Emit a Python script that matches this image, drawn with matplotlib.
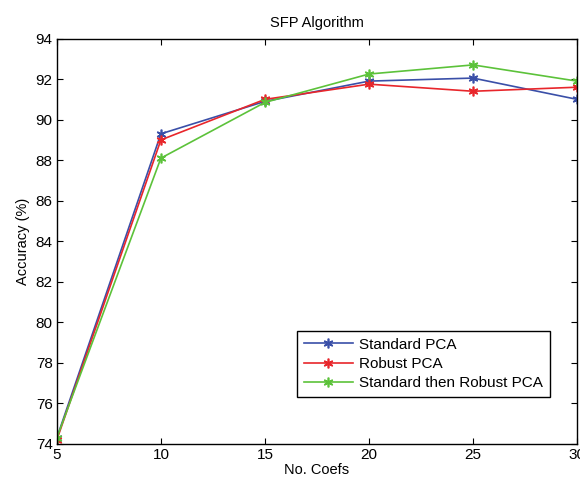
import numpy as np
import matplotlib.pyplot as plt

plt.rcParams['font.family'] = ['Liberation Sans', 'DejaVu Sans']

# Data
coefs = [5, 10, 15, 20, 25, 30]
standard_pca = [74.3, 89.3, 90.9, 91.9, 92.05, 91.0]
robust_pca = [74.2, 89.0, 91.0, 91.75, 91.4, 91.6]
standard_then_robust = [74.3, 88.1, 90.85, 92.25, 92.7, 91.9]
labels = ['Standard PCA', 'Robust PCA', 'Standard then Robust PCA']

fig = plt.figure(figsize=(5.8, 4.82), dpi=100)
ax = fig.add_axes([0.098, 0.079, 0.897, 0.841])

colors = ['#3a4fa8', '#e8262b', '#5cc23a']
series = [standard_pca, robust_pca, standard_then_robust]
for vals, lab, c in zip(series, labels, colors):
    ax.plot(coefs, vals, color=c, marker=(6, 2, 0), markersize=7,
            markeredgewidth=1.2, linewidth=1.2, label=lab)

ax.set_xlim(5, 30)
ax.set_ylim(74, 94)
ax.set_xticks(np.arange(5, 31, 5))
ax.set_yticks(np.arange(74, 95, 2))
ax.tick_params(direction='in', top=True, right=True, labelsize=11, length=4, pad=3)
for s in ax.spines.values():
    s.set_linewidth(1.0)

ax.set_xlabel('No. Coefs', fontsize=10.5, labelpad=1)
ax.set_ylabel('Accuracy (%)', fontsize=10.5)
ax.set_title('SFP Algorithm', fontsize=10.5, pad=8)

leg = ax.legend(loc='lower right', bbox_to_anchor=(0.962, 0.096), fontsize=11,
                fancybox=False, edgecolor='black', framealpha=1,
                borderpad=0.45, labelspacing=0.35, handlelength=3.2,
                handletextpad=0.4)
leg.get_frame().set_linewidth(1.0)

fig.savefig('out.png', dpi=100)
